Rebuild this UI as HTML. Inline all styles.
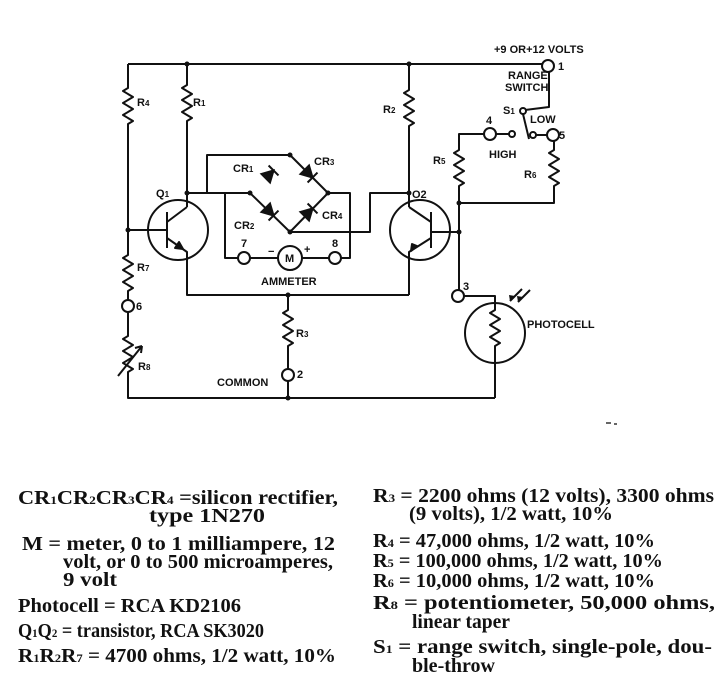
<!DOCTYPE html>
<html><head><meta charset="utf-8"><style>
html,body{margin:0;padding:0;background:#fff;}
svg{display:block}
.l{font-family:"Liberation Sans",sans-serif;font-weight:bold;font-size:11px;fill:#111}
.t{font-family:"Liberation Serif",serif;font-weight:bold;font-size:20px;fill:#111;white-space:pre}
</style></head><body>
<svg width="721" height="693" viewBox="0 0 721 693" xmlns="http://www.w3.org/2000/svg" xml:space="preserve">
<g fill="none" stroke="#111" stroke-width="2" stroke-linejoin="round">
<path d="M128 64 H542"/>
<circle cx="548" cy="66" r="6"/>
<path d="M128 64 V88 l-5 3 l10 6 l-10 6 l10 6 l-10 6 l10 6 l-5 3 V255 l-5 3 l10 6 l-10 6 l10 6 l-10 6 l10 6 l-5 3 V300"/>
<circle cx="128" cy="306" r="6"/>
<path d="M128 312 V336 l-5 3 l10 6 l-10 6 l10 6 l-10 6 l10 6 l-5 3 V398 H495"/>
<path d="M118 376 L142 346"/><path d="M142 346 l-7 2 M142 346 l-1 7"/>
<path d="M187 64 V85 l-5 3 l10 6 l-10 6 l10 6 l-10 6 l10 6 l-5 3 V207"/>
<circle cx="178" cy="230" r="30"/>
<path d="M167 212 V248 M128 230 H167 M167 222 L187 207 M167 238 L187 252 V295 H409"/>
<path d="M183 249 l-8 -1 l4 -6 z" fill="#111"/>
<path d="M409 64 V90 l-5 3 l10 6 l-10 6 l10 6 l-10 6 l10 6 l-5 3 V207"/>
<circle cx="420" cy="230" r="30"/>
<path d="M431 212 V248 M431 232 H460 M431 222 L409 207 M431 238 L409 252 V295"/>
<path d="M417 246 l-6 5 l1 -7 z" fill="#111"/>
<path d="M288 295 V310 l-5 3 l10 6 l-10 6 l10 6 l-10 6 l10 6 l-5 3 V369"/>
<circle cx="288" cy="375" r="6"/>
<path d="M288 381 V398"/>
<path d="M187 193 H207 V155 H290 L328 193 L290 232 L250 193 Z"/>
<path d="M250 193 H225 V258 H238 M250 258 H278 M302 258 H329 M341 258 H350 V193 H328"/>
<circle cx="244" cy="258" r="6"/><circle cx="290" cy="258" r="12"/><circle cx="335" cy="258" r="6"/>
<path d="M290 232 H370 V193 H409"/>
<path d="M549 72 V107 L525 110"/>
<circle cx="523" cy="111" r="3"/>
<path d="M523 114 L529 139"/>
<circle cx="533" cy="135" r="3"/><path d="M536 135 H547"/><circle cx="553" cy="135" r="6"/>
<circle cx="490" cy="134" r="6"/><path d="M496 134 H509"/><circle cx="512" cy="134" r="3"/>
<path d="M484 134 H459 V150 l-5 3 l10 6 l-10 6 l10 6 l-10 6 l10 6 l-5 3 V290"/>
<path d="M554 141 V150 l-5 3 l10 6 l-10 6 l10 6 l-10 6 l10 6 l-5 3 V203 H459"/>
<circle cx="458" cy="296" r="6"/>
<path d="M464 296 H495 V310 l-5 3 l10 6 l-10 6 l10 6 l-10 6 l10 6 l-5 3 V398"/>
<circle cx="495" cy="333" r="30"/>
<path d="M522 289 L510 301 M530 290 L518 302"/>
</g>
<g fill="#111">
<circle cx="187" cy="64" r="2.5"/><circle cx="409" cy="64" r="2.5"/>
<circle cx="187" cy="193" r="2.5"/><circle cx="409" cy="193" r="2.5"/>
<circle cx="128" cy="230" r="2.5"/><circle cx="288" cy="295" r="2.5"/>
<circle cx="288" cy="398" r="2.5"/><circle cx="459" cy="203" r="2.5"/><circle cx="459" cy="232" r="2.5"/>
<circle cx="290" cy="155" r="2.5"/><circle cx="250" cy="193" r="2.5"/><circle cx="328" cy="193" r="2.5"/><circle cx="290" cy="232" r="2.5"/>
<path d="M510 301 l-1 -6 l6 1 z"/><path d="M518 302 l-1 -6 l6 1 z"/>
</g>
<g fill="#111" stroke="#111" stroke-width="2">
<g transform="translate(270 174) rotate(-45)"><path d="M5 0 L-6 -6 L-6 6 Z"/><path d="M5 -7 V7" fill="none"/></g>
<g transform="translate(309 174) rotate(45)"><path d="M5 0 L-6 -6 L-6 6 Z"/><path d="M5 -7 V7" fill="none"/></g>
<g transform="translate(270 212) rotate(45)"><path d="M5 0 L-6 -6 L-6 6 Z"/><path d="M5 -7 V7" fill="none"/></g>
<g transform="translate(309 212) rotate(-45)"><path d="M5 0 L-6 -6 L-6 6 Z"/><path d="M5 -7 V7" fill="none"/></g>
</g>
<g class="l">
<text x="494" y="53">+9 OR+12 VOLTS</text>
<text x="558" y="70">1</text>
<text x="508" y="79">RANGE</text><text x="505" y="91">SWITCH</text>
<text x="503" y="114">S<tspan font-size="8">1</tspan></text>
<text x="530" y="123">LOW</text><text x="559" y="139">5</text>
<text x="486" y="124">4</text><text x="489" y="158">HIGH</text>
<text x="433" y="164">R<tspan font-size="8">5</tspan></text>
<text x="524" y="178">R<tspan font-size="8">6</tspan></text>
<text x="137" y="106">R<tspan font-size="8">4</tspan></text>
<text x="193" y="106">R<tspan font-size="8">1</tspan></text>
<text x="383" y="113">R<tspan font-size="8">2</tspan></text>
<text x="156" y="197">Q<tspan font-size="8">1</tspan></text>
<text x="412" y="198">O2</text>
<text x="233" y="172">CR<tspan font-size="8">1</tspan></text>
<text x="314" y="165">CR<tspan font-size="8">3</tspan></text>
<text x="234" y="229">CR<tspan font-size="8">2</tspan></text>
<text x="322" y="219">CR<tspan font-size="8">4</tspan></text>
<text x="241" y="247">7</text><text x="332" y="247">8</text>
<text x="268" y="255">−</text><text x="304" y="253">+</text>
<text x="285" y="262">M</text>
<text x="261" y="285">AMMETER</text>
<text x="137" y="271">R<tspan font-size="8">7</tspan></text>
<text x="136" y="310">6</text>
<text x="138" y="370">R<tspan font-size="8">8</tspan></text>
<text x="296" y="337">R<tspan font-size="8">3</tspan></text>
<text x="217" y="386">COMMON</text><text x="297" y="378">2</text>
<text x="463" y="290">3</text>
<text x="527" y="328">PHOTOCELL</text>
</g>
<path d="M606 423 h5 M614 424 h3" stroke="#333" stroke-width="1.5"/>
<g class="t">
<text x="18" y="504" textLength="320" lengthAdjust="spacingAndGlyphs">CR<tspan font-size="12">1</tspan>CR<tspan font-size="12">2</tspan>CR<tspan font-size="12">3</tspan>CR<tspan font-size="12">4</tspan> =silicon   rectifier,</text>
<text x="149" y="522" textLength="116" lengthAdjust="spacingAndGlyphs">type 1N270</text>
<text x="22" y="550" textLength="313" lengthAdjust="spacingAndGlyphs">M  =  meter, 0 to 1 milliampere, 12</text>
<text x="63" y="568" textLength="270" lengthAdjust="spacingAndGlyphs">volt, or 0 to 500 microamperes,</text>
<text x="63" y="586" textLength="54" lengthAdjust="spacingAndGlyphs">9 volt</text>
<text x="18" y="612" textLength="223" lengthAdjust="spacingAndGlyphs">Photocell  =  RCA KD2106</text>
<text x="18" y="637" textLength="246" lengthAdjust="spacingAndGlyphs">Q<tspan font-size="12">1</tspan>Q<tspan font-size="12">2</tspan> =  transistor, RCA SK3020</text>
<text x="18" y="662" textLength="318" lengthAdjust="spacingAndGlyphs">R<tspan font-size="12">1</tspan>R<tspan font-size="12">2</tspan>R<tspan font-size="12">7</tspan> =  4700 ohms, 1/2 watt, 10%</text>
<text x="373" y="502" textLength="341" lengthAdjust="spacingAndGlyphs">R<tspan font-size="12">3</tspan> =  2200 ohms (12 volts), 3300 ohms</text>
<text x="409" y="520" textLength="204" lengthAdjust="spacingAndGlyphs">(9 volts), 1/2 watt, 10%</text>
<text x="373" y="547" textLength="282" lengthAdjust="spacingAndGlyphs">R<tspan font-size="12">4</tspan> =  47,000 ohms, 1/2 watt, 10%</text>
<text x="373" y="567" textLength="290" lengthAdjust="spacingAndGlyphs">R<tspan font-size="12">5</tspan> =  100,000 ohms, 1/2 watt, 10%</text>
<text x="373" y="587" textLength="282" lengthAdjust="spacingAndGlyphs">R<tspan font-size="12">6</tspan> =  10,000 ohms, 1/2 watt, 10%</text>
<text x="373" y="609" textLength="342" lengthAdjust="spacingAndGlyphs">R<tspan font-size="12">8</tspan> =  potentiometer, 50,000 ohms,</text>
<text x="412" y="628" textLength="98" lengthAdjust="spacingAndGlyphs">linear taper</text>
<text x="373" y="653" textLength="339" lengthAdjust="spacingAndGlyphs">S<tspan font-size="12">1</tspan> =  range switch, single-pole, dou-</text>
<text x="412" y="672" textLength="83" lengthAdjust="spacingAndGlyphs">ble-throw</text>
</g>
</svg>
</body></html>
